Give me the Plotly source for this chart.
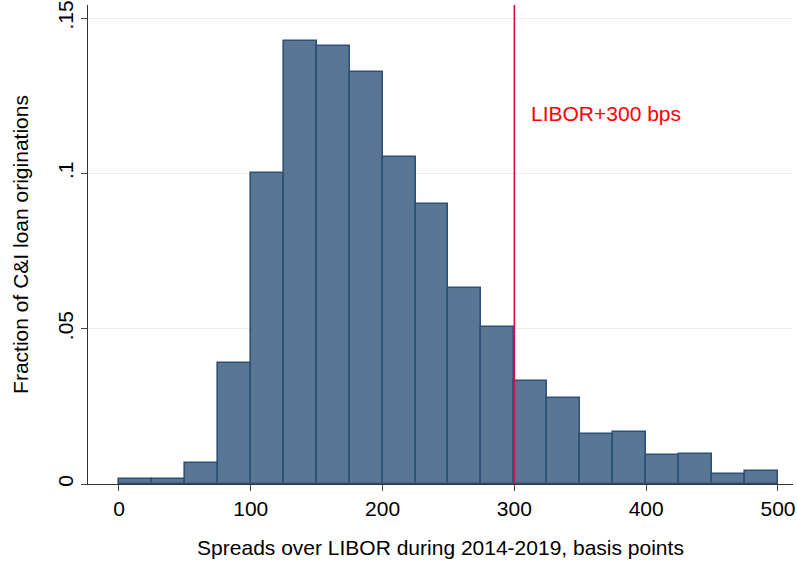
import plotly.graph_objects as go

bin_left = [0, 25, 50, 75, 100, 125, 150, 175, 200, 225, 250, 275, 300, 325, 350, 375, 400, 425, 450, 475]
bin_width = 25
fractions = [0.0015, 0.0015, 0.0068, 0.039, 0.100, 0.1427, 0.1409, 0.1327, 0.1053, 0.090,
             0.063, 0.0506, 0.0332, 0.0278, 0.0162, 0.0166, 0.0093, 0.0098, 0.0033, 0.0041]
x_ticks = [0, 100, 200, 300, 400, 500]
y_ticks = [0, 0.05, 0.1, 0.15]
y_ticklabels = ["0", ".05", ".1", ".15"]
cutoff = 300
cutoff_label = "LIBOR+300 bps"

centers = [b + bin_width / 2 for b in bin_left]
font = "Liberation Sans, Arial, sans-serif"
fs = 21

fig = go.Figure()
fig.add_trace(go.Bar(
    x=centers, y=fractions, width=bin_width,
    marker=dict(color="rgba(76,109,141,0.93)", line=dict(color="#2c5078", width=1.6)),
    showlegend=False,
))
fig.add_shape(type="line", x0=cutoff, x1=cutoff, y0=0, y1=1, xref="x", yref="paper",
              line=dict(color="#d11240", width=1.6))
fig.add_annotation(x=cutoff + 11, y=0.1194, text=cutoff_label, showarrow=False,
                   xanchor="left", yanchor="middle",
                   font=dict(family=font, size=fs, color="#ff0000"))

fig.update_layout(
    width=797, height=567,
    margin=dict(l=88, r=4, t=5, b=83, autoexpand=False),
    paper_bgcolor="white", plot_bgcolor="white",
    bargap=0,
    font=dict(family=font, size=fs, color="black"),
    xaxis=dict(
        range=[-23.5, 511.4], tickvals=x_ticks, ticks="outside", ticklen=6,
        tickcolor="#444", showgrid=False, zeroline=False, automargin=False,
        showline=True, linecolor="#333", linewidth=1.2,
        title=dict(text="Spreads over LIBOR during 2014-2019, basis points", standoff=21,
                   font=dict(size=fs)),
        tickfont=dict(size=fs),
    ),
    yaxis=dict(
        range=[0, 0.1542], tickvals=y_ticks, ticktext=y_ticklabels, tickangle=-90,
        ticks="outside", ticklen=6, tickcolor="#444", automargin=False,
        showgrid=True, gridcolor="#e6eff1", gridwidth=1, zeroline=False,
        showline=True, linecolor="#333", linewidth=1.2,
        title=dict(text="Fraction of C&I loan originations", standoff=19,
                   font=dict(size=fs)),
        tickfont=dict(size=fs),
    ),
)
fig.write_html("out.html", config={"displayModeBar": False},
               post_script="document.body.style.margin='0';document.body.style.overflow='hidden';")
